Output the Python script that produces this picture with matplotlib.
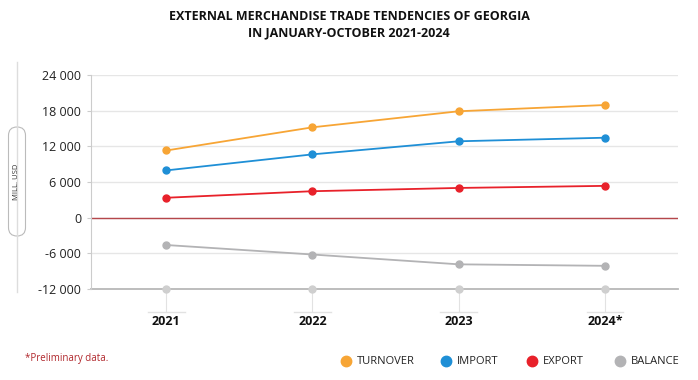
import matplotlib
matplotlib.use("Agg")
import matplotlib.pyplot as plt
from matplotlib.patches import FancyBboxPatch

years = ["2021", "2022", "2023", "2024*"]
turnover = [11300, 15200, 17900, 18950]
imports = [7950, 10650, 12850, 13450]
exports = [3350, 4450, 5000, 5350]
balance = [-4600, -6200, -7850, -8100]
yticks = [-12000, -6000, 0, 6000, 12000, 18000, 24000]
ytick_labels = ["-12 000", "-6 000", "0", "6 000", "12 000", "18 000", "24 000"]
legend_labels = ["TURNOVER", "IMPORT", "EXPORT", "BALANCE"]

FONT = ["Open Sans", "DejaVu Sans"]
plt.rcParams['font.family'] = FONT

W, H = 698, 380
fig = plt.figure(figsize=(W / 100, H / 100), dpi=100)

# overlay axes in pixel coordinates (y downwards) for decorations
deco = fig.add_axes([0, 0, 1, 1], zorder=-1)
deco.set_xlim(0, W)
deco.set_ylim(H, 0)
deco.axis("off")

ax = fig.add_axes([91 / W, 1 - 289 / H, (678 - 91) / W, (289 - 75) / H])
ax.patch.set_alpha(0)

x = list(range(len(years)))
colors = ["#F7A535", "#1F8FD6", "#E8212A", "#B3B3B5"]

ax.set_ylim(-12000, 24000)
ax.set_xlim(-0.515, 3.5)
for t in yticks[1:]:
    ax.axhline(t, color="#E6E6E6", lw=1, zorder=0)
ax.axhline(0, color="#B5474B", lw=1, zorder=1)
ax.axhline(-12000, color="#B8B8B8", lw=1.3, zorder=1, clip_on=False)

for vals, c in zip([turnover, imports, exports, balance], colors):
    ax.plot(x, vals, color=c, lw=1.3, marker="o", ms=5, zorder=3)
ax.plot(x, [-12000] * len(x), ls="none", marker="o", ms=5, color="#CFCFCF", zorder=4, clip_on=False)

for s in ["top", "right", "bottom"]:
    ax.spines[s].set_visible(False)
ax.spines["left"].set_color("#CCCCCC")
ax.set_yticks(yticks)
ax.set_yticklabels(ytick_labels, fontsize=9, color="#222222")
ax.tick_params(axis="y", length=3, color="#CCCCCC", pad=4)
ax.set_xticks(x)
ax.set_xticklabels(years, fontsize=9, fontweight="bold", color="#111111")
ax.tick_params(axis="x", length=16.5, color="#E2E2E2", pad=2)

# tick caps under x ticks
cap_y = -12000 - 23 / 214 * 36000
for xi in x:
    ax.plot([xi - 0.125, xi + 0.125], [cap_y] * 2, color="#E2E2E2", lw=1, clip_on=False, zorder=0)

fig.text(0.5, 1 - 17 / H, "EXTERNAL MERCHANDISE TRADE TENDENCIES OF GEORGIA", ha="center", va="center",
         fontsize=9, fontweight="bold", color="#111111")
fig.text(0.5, 1 - 33 / H, "IN JANUARY-OCTOBER 2021-2024", ha="center", va="center",
         fontsize=9, fontweight="bold", color="#111111")

# left unit decoration
deco.plot([17, 17], [62, 292], color="#DDDDDD", lw=1)
box = FancyBboxPatch((8.5, 127), 17, 109, boxstyle="round,pad=0,rounding_size=8.5",
                     facecolor="white", edgecolor="#BBBBBB", lw=0.8)
deco.add_patch(box)
deco.text(17, 182, "MILL. USD", rotation=90, ha="center", va="center", fontsize=5.5, color="#333333")

deco.text(25, 358, "*Preliminary data.", ha="left", va="center", fontsize=7, color="#B0262B")

legend_px = [346, 446, 532, 620]
for label, c, px in zip(legend_labels, colors, legend_px):
    deco.plot([px], [361], marker="o", ms=7.5, color=c, ls="none")
    deco.text(px + 11, 361, label, ha="left", va="center", fontsize=8, color="#222222")

fig.savefig("out.png", dpi=100)
